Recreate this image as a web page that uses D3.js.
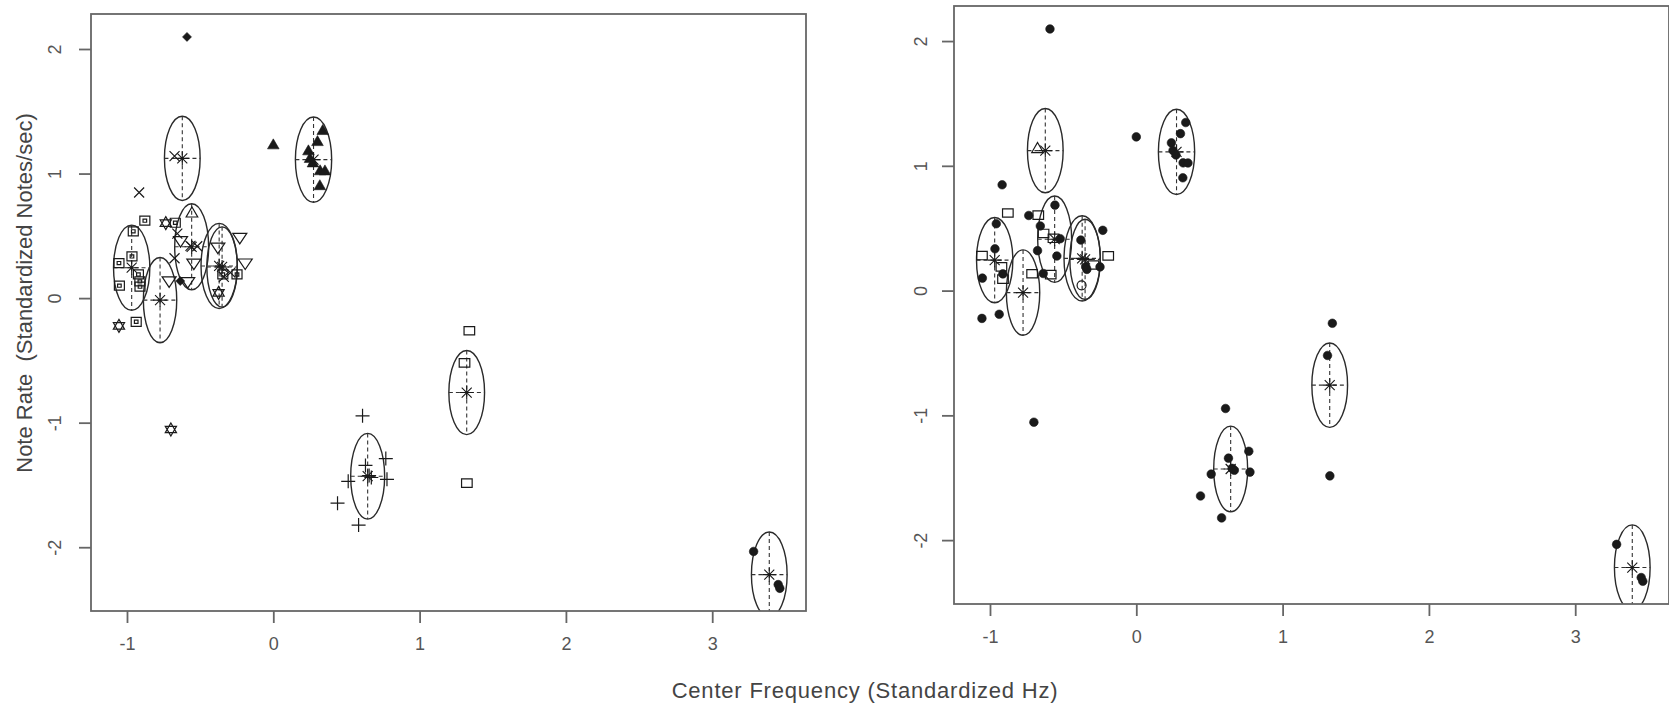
<!DOCTYPE html>
<html>
<head>
<meta charset="utf-8">
<script src="https://cdn.jsdelivr.net/npm/d3@7"></script>
<style>
  html, body { margin: 0; padding: 0; background: #fff; }
  svg { display: block; }
  text { font-family: "Liberation Sans", Arial, sans-serif; }
</style>
</head>
<body>
<svg id="chart" width="1669" height="708"></svg>
<script>
// ---------------- DATA ----------------
const xTicks = [-1, 0, 1, 2, 3];
const yTicks = [-2, -1, 0, 1, 2];
const xDomain = [-1.246, 3.641];
const yDomain = [-2.512, 2.281];

const xTitle = "Center Frequency (Standardized Hz)";
const yTitle = "Note Rate  (Standardized Notes/sec)";

const pointX = [
  -0.590,
  0.000, 0.338, 0.302, 0.240, 0.251, 0.271, 0.320, 0.353, 0.318,
  -0.675, -0.917,
  -0.878, -0.957, -1.055, -0.966, -0.922, -0.912, -0.911, -1.052, -0.937,
  -1.055, -0.700,
  -0.735, -0.670, -0.556, -0.656, -0.675, -0.634, -0.520, -0.566, -0.543, -0.636, -0.712, -0.585,
  -0.379, -0.345, -0.338, -0.374, -0.229, -0.248, -0.192, -0.293,
  0.610, 0.769, 0.630, 0.655, 0.670, 0.512, 0.777, 0.439, 0.583,
  1.340, 1.307, 1.323,
  3.283, 3.451, 3.462
];
const pointY = [
  2.097,
  1.232, 1.347, 1.258, 1.184, 1.123, 1.087, 1.024, 1.023, 0.904,
  1.140, 0.848,
  0.622, 0.536, 0.281, 0.335, 0.190, 0.134, 0.092, 0.100, -0.190,
  -0.223, -1.055,
  0.602, 0.605, 0.685, 0.518, 0.320, 0.458, 0.416, 0.419, 0.277, 0.137, 0.135, 0.128,
  0.405, 0.190, 0.170, 0.042, 0.483, 0.190, 0.278, 0.205,
  -0.945, -1.288, -1.343, -1.425, -1.440, -1.471, -1.455, -1.646, -1.822,
  -0.262, -0.520, -1.485,
  -2.034, -2.300, -2.330
];
const leftShape = [
  "diamond",
  "tri", "tri", "tri", "tri", "tri", "tri", "tri", "tri", "tri",
  "x", "x",
  "sqdot", "sqdot", "sqdot", "sqdot", "sqdot", "sqdot", "sqdot", "sqdot", "sqdot",
  "hex", "hex",
  "hex", "sqdot", "trio", "x", "x", "tridn", "x", "x", "tridn", "diamond", "tridn", "tridn",
  "tridn", "sqdot", "x", "hex", "tridn", "sqdot", "tridn", "x",
  "plus", "plus", "plus", "plus", "plus", "plus", "plus", "plus", "plus",
  "sq", "sq", "sq",
  "dot", "dot", "dot"
];
const rightShape = [
  "dot",
  "dot", "dot", "dot", "dot", "dot", "dot", "dot", "dot", "dot",
  "trio", "dot",
  "sq", "dot", "sq", "dot", "sq", "dot", "sq", "dot", "dot",
  "dot", "dot",
  "dot", "sq", "dot", "dot", "dot", "sq", "dot", "sq", "dot", "dot", "sq", "sq",
  "dot", "dot", "dot", "circ", "dot", "dot", "sq", "sq",
  "dot", "dot", "dot", "dot", "dot", "dot", "dot", "dot", "dot",
  "dot", "dot", "dot",
  "dot", "dot", "dot"
];

const ellipseCX = [-0.622, 0.275, -0.968, -0.774, -0.558, -0.370, -0.350, 0.645, 1.322, 3.390];
const ellipseCY = [1.122, 1.112, 0.244, -0.016, 0.412, 0.258, 0.250, -1.430, -0.758, -2.220];
const ellipseRX = [0.122, 0.124, 0.124, 0.114, 0.116, 0.124, 0.104, 0.116, 0.122, 0.122];
const ellipseRY = [0.338, 0.342, 0.342, 0.342, 0.346, 0.342, 0.322, 0.344, 0.338, 0.342];

// ---------------- LAYOUT ----------------
const panels = [
  { id: "L", x0: 91, y0: 14, w: 715, h: 597, shapes: leftShape, ylabOff: 30, yTitle: true },
  { id: "R", x0: 954, y0: 6, w: 715, h: 598, shapes: rightShape, ylabOff: 27, yTitle: false }
];

const svg = d3.select("#chart");
const INK = "#1a1a1a";
const fmt = d => String(d);   // plain hyphen-minus, as in the reference

function symbolPath(shape) {
  const p = d3.path();
  switch (shape) {
    case "dot": p.arc(0, 0, 4.3, 0, 2 * Math.PI); break;
    case "circ": p.arc(0, 0, 4.5, 0, 2 * Math.PI); break;
    case "diamond": p.moveTo(0, -4.5); p.lineTo(4.5, 0); p.lineTo(0, 4.5); p.lineTo(-4.5, 0); p.closePath(); break;
    case "tri": case "trio": p.moveTo(0, -5.8); p.lineTo(5.8, 4.2); p.lineTo(-5.8, 4.2); p.closePath(); break;
    case "tridn": p.moveTo(-7, -4.5); p.lineTo(7, -4.5); p.lineTo(0, 6); p.closePath(); break;
    case "x": p.moveTo(-5, -5); p.lineTo(5, 5); p.moveTo(5, -5); p.lineTo(-5, 5); break;
    case "plus": p.moveTo(-7, 0); p.lineTo(7, 0); p.moveTo(0, -7); p.lineTo(0, 7); break;
    case "sq": p.rect(-5.3, -4.2, 10.6, 8.4); break;
    case "sqdot": p.rect(-5, -4.5, 10, 9); p.rect(-1.8, -1.6, 3.6, 3.2); break;
    case "hex":
      p.moveTo(0, -6.5); p.lineTo(5.6, 3.2); p.lineTo(-5.6, 3.2); p.closePath();
      p.moveTo(0, 6.5); p.lineTo(5.6, -3.2); p.lineTo(-5.6, -3.2); p.closePath(); break;
    case "ast":
      p.moveTo(-7, 0); p.lineTo(7, 0); p.moveTo(0, -7); p.lineTo(0, 7);
      p.moveTo(-5, -5); p.lineTo(5, 5); p.moveTo(5, -5); p.lineTo(-5, 5); break;
  }
  return p.toString();
}
const filled = new Set(["dot", "diamond", "tri"]);

panels.forEach((pn) => {
  const x = d3.scaleLinear().domain(xDomain).range([pn.x0, pn.x0 + pn.w]);
  const y = d3.scaleLinear().domain(yDomain).range([pn.y0 + pn.h, pn.y0]);
  const g = svg.append("g");

  const clipId = "clip" + pn.id;
  svg.append("clipPath").attr("id", clipId)
    .append("rect").attr("x", pn.x0).attr("y", pn.y0).attr("width", pn.w).attr("height", pn.h);

  const plot = g.append("g").attr("clip-path", `url(#${clipId})`);

  // ellipses
  const ell = ellipseCX.map((cx, i) => ({ cx, cy: ellipseCY[i], rx: ellipseRX[i], ry: ellipseRY[i] }));
  plot.selectAll("ellipse").data(ell).join("ellipse")
    .attr("cx", d => x(d.cx)).attr("cy", d => y(d.cy))
    .attr("rx", d => x(d.cx + d.rx) - x(d.cx))
    .attr("ry", d => y(d.cy) - y(d.cy + d.ry))
    .attr("fill", "none").attr("stroke", "#2a2a2a").attr("stroke-width", 1.4);
  plot.selectAll("line.h").data(ell).join("line").attr("class", "h")
    .attr("x1", d => x(d.cx - d.rx)).attr("x2", d => x(d.cx + d.rx))
    .attr("y1", d => y(d.cy)).attr("y2", d => y(d.cy))
    .attr("stroke", "#333").attr("stroke-width", 1.1).attr("stroke-dasharray", "4,3");
  plot.selectAll("line.v").data(ell).join("line").attr("class", "v")
    .attr("x1", d => x(d.cx)).attr("x2", d => x(d.cx))
    .attr("y1", d => y(d.cy + d.ry)).attr("y2", d => y(d.cy - d.ry))
    .attr("stroke", "#333").attr("stroke-width", 1.1).attr("stroke-dasharray", "4,3");

  // points
  const pts = pointX.map((px, i) => ({ px, py: pointY[i], s: pn.shapes[i] }));
  plot.selectAll("path.pt").data(pts).join("path").attr("class", "pt")
    .attr("transform", d => `translate(${x(d.px)},${y(d.py)})`)
    .attr("d", d => symbolPath(d.s))
    .attr("fill", d => filled.has(d.s) ? INK : "none")
    .attr("stroke", INK)
    .attr("stroke-width", d => filled.has(d.s) ? 0.6 : 1.2);

  // center asterisks
  plot.selectAll("path.ctr").data(ell).join("path").attr("class", "ctr")
    .attr("transform", d => `translate(${x(d.cx)},${y(d.cy)})`)
    .attr("d", symbolPath("ast"))
    .attr("fill", "none").attr("stroke", INK).attr("stroke-width", 1.1);

  // box
  g.append("rect").attr("x", pn.x0).attr("y", pn.y0).attr("width", pn.w).attr("height", pn.h)
    .attr("fill", "none").attr("stroke", "#666").attr("stroke-width", 1.8);

  // x axis
  const xa = g.append("g").attr("transform", `translate(0,${pn.y0 + pn.h})`)
    .call(d3.axisBottom(x).tickValues(xTicks).tickSize(12).tickPadding(14).tickFormat(fmt));
  xa.select(".domain").remove();
  xa.selectAll(".tick line").attr("stroke", "#666").attr("stroke-width", 1.8);
  xa.selectAll(".tick text").attr("fill", "#555").attr("font-size", 18)
    .attr("font-family", "Liberation Sans, Arial, sans-serif");

  // y axis
  const ya = g.append("g").attr("transform", `translate(${pn.x0},0)`)
    .call(d3.axisLeft(y).tickValues(yTicks).tickSize(12).tickFormat(fmt));
  ya.select(".domain").remove();
  ya.selectAll(".tick line").attr("stroke", "#666").attr("stroke-width", 1.8);
  ya.selectAll(".tick text").remove();
  ya.selectAll(".tick").append("text")
    .attr("transform", `translate(${-pn.ylabOff},0) rotate(-90)`)
    .attr("text-anchor", "middle").attr("dy", 0)
    .attr("fill", "#555").attr("font-size", 18)
    .attr("font-family", "Liberation Sans, Arial, sans-serif")
    .text(fmt);

  if (pn.yTitle) {
    g.append("text")
      .attr("transform", `translate(32,293) rotate(-90)`)
      .attr("text-anchor", "middle")
      .attr("fill", "#444").attr("font-size", 22)
      .attr("xml:space", "preserve")
      .style("white-space", "pre")
      .text(yTitle);
  }
});

svg.append("text")
  .attr("x", 865).attr("y", 698)
  .attr("text-anchor", "middle")
  .attr("fill", "#444").attr("font-size", 22)
  .attr("letter-spacing", 0.8)
  .text(xTitle);
</script>
</body>
</html>
